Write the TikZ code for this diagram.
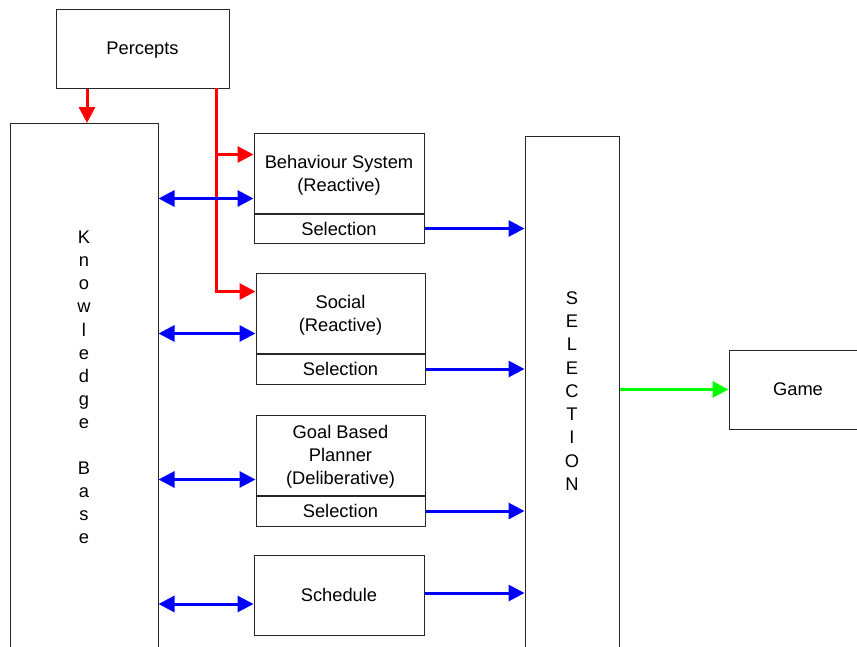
\documentclass[tikz,border=0pt]{standalone}
\usepackage{fontspec}
\setmainfont{Liberation Sans}
\usetikzlibrary{arrows.meta,calc}
\newcommand\diagfont{\fontsize{18.3}{23}\selectfont}
\begin{document}
\begin{tikzpicture}[x=1pt,y=-1pt,
  lbl/.style={inner sep=0pt, align=center, font=\diagfont, text depth=0pt},
  box/.style={draw=black!85, line width=1pt, inner sep=0pt},
  txt/.style={label={[lbl]center:#1}},
  redl/.style={draw=red, line width=3pt},
  redarr/.style={redl, -{Triangle[length=16pt,width=16pt]}},
  bluearr/.style={draw=blue, line width=3pt, -{Triangle[length=16pt,width=16pt]}},
  bluedbl/.style={draw=blue, line width=3pt, {Triangle[length=16pt,width=16pt]}-{Triangle[length=16pt,width=16pt]}},
  greenarr/.style={draw=green, line width=3pt, -{Triangle[length=16pt,width=16pt]}}]
\useasboundingbox (0,0) rectangle (857,646);
\clip (0,0) rectangle (857,646);

% input and knowledge base
\node[box, txt=Percepts, minimum width=173, minimum height=79] (percepts) at (142.5,48.5) {};
\node[box, anchor=north, minimum width=148, minimum height=560] (kb) at (84,123) {};
\node[lbl, font={\fontsize{18.3}{23.1}\selectfont}] (kblabel) at (84,387.5) {K\\n\\o\\w\\l\\e\\d\\g\\e\\[23.1pt]B\\a\\s\\e};

% behaviour modules
\node[box, txt={Behaviour System\\(Reactive)}, minimum width=170, minimum height=80] (beh) at (339,173) {};
\node[box, txt=Selection, anchor=north, minimum width=170, minimum height=29] (bsel) at (beh.south) {};
\node[box, txt={Social\\(Reactive)}, minimum width=169, minimum height=80] (soc) at (340.5,313) {};
\node[box, txt=Selection, anchor=north, minimum width=169, minimum height=30] (ssel) at (soc.south) {};
\node[box, txt={Goal Based\\Planner\\(Deliberative)}, minimum width=169, minimum height=80] (goal) at (340.5,455) {};
\node[box, txt=Selection, anchor=north, minimum width=169, minimum height=30] (gsel) at (goal.south) {};
\node[box, txt=Schedule, minimum width=170, minimum height=80] (sched) at (339,595) {};

% arbitration and output
\node[box, anchor=north, minimum width=94, minimum height=540] (sel) at (572,136) {};
\node[lbl, font={\fontsize{18.3}{23.25}\selectfont}] (sellabel) at (572,391) {S\\E\\L\\E\\C\\T\\I\\O\\N};
\node[box, txt=Game, minimum width=138, minimum height=79] (game) at (798,389.5) {};

% percept flow
\draw[redarr] ([xshift=3]kb.north |- percepts.south) -- ([xshift=3]kb.north);
\coordinate (tap) at (216,88);
\coordinate (bin) at ([yshift=-22]beh.north west);
\coordinate (sin) at ([yshift=-19]soc.north west);
\draw[redarr] (tap) |- (sin);
\draw[redarr] (tap |- bin) -- (bin);

% knowledge base exchange
\coordinate (bk) at ([yshift=15]beh.south west);
\coordinate (sk) at ([yshift=20]soc.south west);
\coordinate (gk) at ([yshift=16]goal.south west);
\coordinate (hk) at ([yshift=-9]sched.west);
\draw[bluedbl] (kb.east |- bk) -- (bk);
\draw[bluedbl] (kb.east |- sk) -- (sk);
\draw[bluedbl] (kb.east |- gk) -- (gk);
\draw[bluedbl] (kb.east |- hk) -- (hk);

% proposals to selection
\draw[bluearr] (bsel.east) -- (bsel.east -| sel.west);
\draw[bluearr] (ssel.east) -- (ssel.east -| sel.west);
\draw[bluearr] (gsel.east) -- (gsel.east -| sel.west);
\draw[bluearr] ([yshift=2]sched.east) -- ([yshift=2]sched.east -| sel.west);
\draw[greenarr] (sel.east |- game.west) -- (game.west);
\end{tikzpicture}
\end{document}
